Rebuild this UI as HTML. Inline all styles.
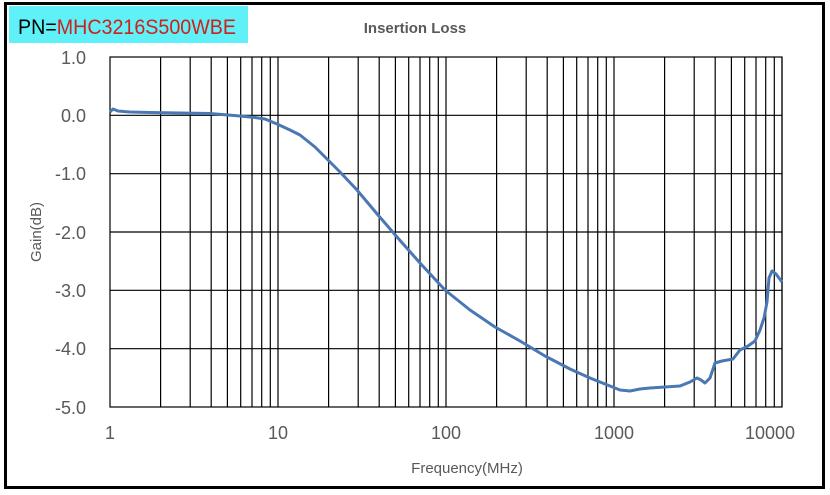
<!DOCTYPE html>
<html><head><meta charset="utf-8"><style>
body{margin:0;background:#fff;}
svg{display:block;font-family:"Liberation Sans",Arial,sans-serif;}
</style></head><body>
<svg width="830" height="495" viewBox="0 0 830 495">
<rect x="0" y="0" width="830" height="495" fill="#fff"/>
<rect x="5.5" y="3.5" width="818" height="484" fill="none" stroke="#000" stroke-width="3"/>
<rect x="9" y="6" width="239" height="37" fill="#5ff0f8"/>
<text x="18" y="34" font-size="21" fill="#000" textLength="218" lengthAdjust="spacingAndGlyphs">PN=<tspan fill="#d0201c">MHC3216S500WBE</tspan></text>
<text x="415" y="33" font-size="15" font-weight="bold" fill="#595959" text-anchor="middle">Insertion Loss</text>
<g stroke="#000" stroke-width="1.2" fill="none">
<rect x="110" y="57" width="672" height="350"/>
<line x1="110" y1="115.3" x2="782" y2="115.3"/>
<line x1="110" y1="173.7" x2="782" y2="173.7"/>
<line x1="110" y1="232" x2="782" y2="232"/>
<line x1="110" y1="290.3" x2="782" y2="290.3"/>
<line x1="110" y1="348.7" x2="782" y2="348.7"/>
<g id="dec">
<line x1="160.6" y1="57" x2="160.6" y2="407"/>
<line x1="190.2" y1="57" x2="190.2" y2="407"/>
<line x1="211.2" y1="57" x2="211.2" y2="407"/>
<line x1="227.4" y1="57" x2="227.4" y2="407"/>
<line x1="240.7" y1="57" x2="240.7" y2="407"/>
<line x1="252" y1="57" x2="252" y2="407"/>
<line x1="261.7" y1="57" x2="261.7" y2="407"/>
<line x1="270.3" y1="57" x2="270.3" y2="407"/>
<line x1="278" y1="57" x2="278" y2="407"/>
</g>
<use href="#dec" x="168"/>
<use href="#dec" x="336"/>
<use href="#dec" x="504"/>
</g>
<polyline fill="none" stroke="#4a78b4" stroke-width="3" stroke-linejoin="round" points="110,112 113,109 118,111 130,112 150,112.5 180,113 210,113.5 240,116 255,117.5 265,119 277,124 290,130 300,135 315,147 328,160 340,172 357,190 378,215 397,237 420,263 445,290 470,310 495,327 520,341 545,356 570,369 590,378 610,386 620,390 630,391 640,389 650,388 665,387 680,386 690,382 697,378 701,380 705,383 710,378 715,363 722,361 733,359 740,350 748,346 755,341 760,330 764,318 767,302 769,278 772,271 776,274 782,282"/>
<g font-size="18" fill="#595959" text-anchor="end">
<text x="86" y="64">1.0</text>
<text x="86" y="122">0.0</text>
<text x="86" y="180">-1.0</text>
<text x="86" y="239">-2.0</text>
<text x="86" y="297">-3.0</text>
<text x="86" y="355">-4.0</text>
<text x="86" y="414">-5.0</text>
</g>
<g font-size="18" fill="#595959" text-anchor="middle">
<text x="110" y="439">1</text>
<text x="278" y="439">10</text>
<text x="446" y="439">100</text>
<text x="614" y="439">1000</text>
<text x="770" y="439">10000</text>
</g>
<text x="467" y="473" font-size="15" fill="#595959" text-anchor="middle">Frequency(MHz)</text>
<text transform="translate(41,232) rotate(-90)" font-size="15" fill="#595959" text-anchor="middle">Gain(dB)</text>
</svg>
</body></html>
